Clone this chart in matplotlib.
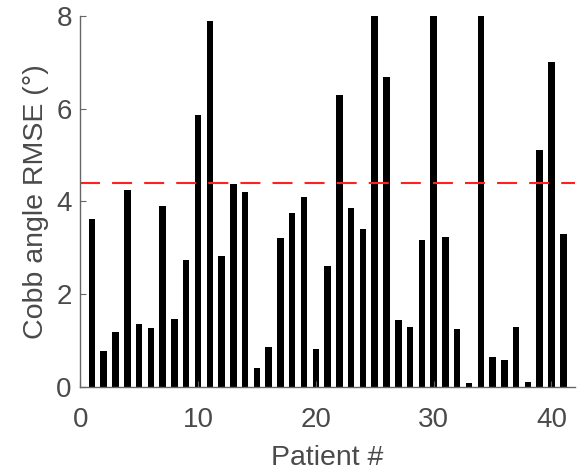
import numpy as np
import matplotlib
matplotlib.use("Agg")
import matplotlib.pyplot as plt

# Per-patient Cobb angle RMSE (deg); bars above 8 are clipped by the axis
patients = np.arange(1, 42)
rmse = [3.62, 0.78, 1.17, 4.25, 1.35, 1.26, 3.89, 1.46, 2.74, 5.87,
        7.90, 2.82, 4.38, 4.20, 0.40, 0.86, 3.20, 3.76, 4.10, 0.81,
        2.61, 6.29, 3.85, 3.41, 9.50, 6.68, 1.43, 1.29, 3.17, 10.2,
        3.24, 1.25, 0.07, 11.0, 0.63, 0.58, 1.29, 0.11, 5.11, 7.02,
        3.29]
mean_rmse = 4.40

plt.rcParams['font.family'] = ['Liberation Sans', 'DejaVu Sans']

fig = plt.figure(figsize=(5.85, 4.75), dpi=100)
ax = fig.add_axes([0.137, 0.186, 0.846, 0.780])

ax.bar(patients, rmse, width=0.55, color='black')
ax.plot([0, 42], [mean_rmse, mean_rmse], color='#ff2020', lw=1.5,
        dashes=(9.6, 5.8))

ax.set_xlim(0, 42)
ax.set_ylim(0, 8)
ax.set_xticks([0, 10, 20, 30, 40])
ax.set_yticks([0, 2, 4, 6, 8])

for s in ['top', 'right']:
    ax.spines[s].set_visible(False)
for s in ['left', 'bottom']:
    ax.spines[s].set_color('#666666')
    ax.spines[s].set_linewidth(1.0)

ax.tick_params(direction='in', length=4, colors='#666666', labelsize=20,
               labelcolor='#4a4a4a')
ax.tick_params(axis='x', pad=15)
ax.tick_params(axis='y', pad=6)
ax.set_xlabel('Patient #', fontsize=20.5, color='#4a4a4a', labelpad=8)
ax.set_ylabel('Cobb angle RMSE (°)', fontsize=20.5, color='#4a4a4a', labelpad=5)

fig.savefig('out.png', dpi=100)
